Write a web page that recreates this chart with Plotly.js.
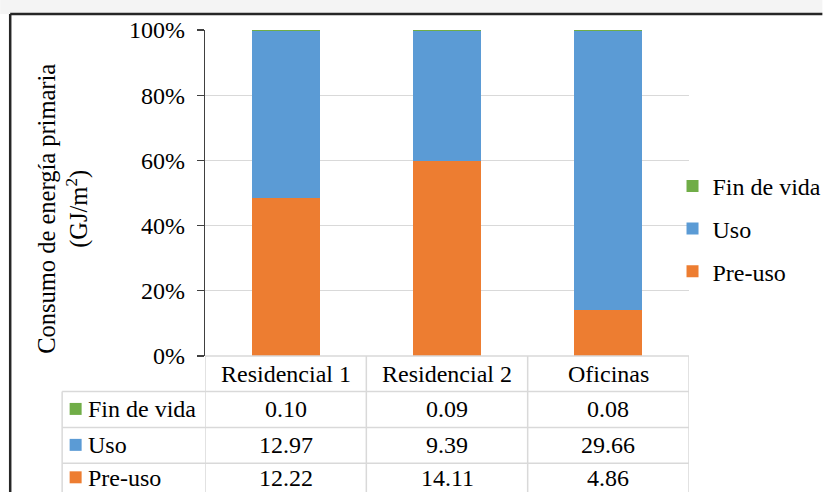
<!DOCTYPE html>
<html>
<head>
<meta charset="utf-8">
<script src="https://cdn.plot.ly/plotly-3.0.1.min.js"></script>
<style>
  html, body { margin: 0; padding: 0; background: #ffffff; overflow: hidden; }
  #chart { width: 823px; height: 492px; }
</style>
</head>
<body>
<div id="chart"></div>
<script>
// Primary energy use per building type, split by life-cycle stage (GJ/m2)
const categories = ['Residencial 1', 'Residencial 2', 'Oficinas'];
const preUso = [12.22, 14.11, 4.86];
const uso = [12.97, 9.39, 29.66];
const finVida = [0.10, 0.09, 0.08];
const stageNames = ['Pre-uso', 'Uso', 'Fin de vida'];
const stageColors = ['#ED7D31', '#5B9BD5', '#70AD47'];
const yTickVals = [0, 20, 40, 60, 80, 100];
const yTickText = ['0%', '20%', '40%', '60%', '80%', '100%'];
const yTitleLines = ['Consumo de energía primaria', '(GJ/m<sup>2</sup>)'];

// Figure geometry (pixels)
const W = 823, H = 492;
const L = 205, R = 689.5, T = 30, B = 356.5;
const pw = R - L, ph = B - T;
const px = X => (X - L) / pw;          // pixel x -> paper x
const py = Y => (B - Y) / ph;          // pixel y -> paper y

const FONT = 'Liberation Serif, Times New Roman, serif';
const FS = 24;
const gridCol = '#d9d9d9';
const txt = (size) => ({ family: FONT, size: size || FS, color: '#000' });

const seriesValues = [preUso, uso, finVida];
const xIdx = categories.map((_, i) => i);

const traces = seriesValues.map((vals, k) => ({
  type: 'bar',
  name: stageNames[k],
  x: xIdx,
  y: vals,
  marker: { color: stageColors[k], line: { width: 0 } },
  legendgroup: 'g' + k,
  legendrank: 3 - k,
  hoverinfo: 'name+y'
}));

const shapes = [];
const annotations = [];

// light band above the frame and the frame lines
shapes.push({ type: 'rect', xref: 'paper', yref: 'paper', x0: px(0), x1: px(W), y0: py(0), y1: py(14),
  fillcolor: '#f4f4f4', line: { width: 0 }, layer: 'below' });
shapes.push({ type: 'line', xref: 'paper', yref: 'paper', x0: px(10), x1: px(W), y0: py(14), y1: py(14),
  line: { color: '#262626', width: 2.5 } });
shapes.push({ type: 'line', xref: 'paper', yref: 'paper', x0: px(10), x1: px(10), y0: py(14), y1: py(H + 2),
  line: { color: '#262626', width: 2.5 } });

// data table grid
const rowY = [356.5, 392, 428, 464, 500];
const tableLeft = 62;
shapes.push({ type: 'line', xref: 'paper', yref: 'paper', x0: px(L), x1: px(R), y0: py(rowY[0]), y1: py(rowY[0]),
  line: { color: gridCol, width: 1.5 } });
for (let r = 1; r < rowY.length; r++) {
  shapes.push({ type: 'line', xref: 'paper', yref: 'paper', x0: px(tableLeft), x1: px(R), y0: py(rowY[r]), y1: py(rowY[r]),
    line: { color: gridCol, width: 1.5 } });
}
shapes.push({ type: 'line', xref: 'paper', yref: 'paper', x0: px(tableLeft), x1: px(tableLeft), y0: py(rowY[1]), y1: py(H + 5),
  line: { color: gridCol, width: 1.5 } });
for (let c = 0; c <= categories.length; c++) {
  const xb = c - 0.5;
  shapes.push({ type: 'line', xref: 'x', yref: 'paper', x0: xb, x1: xb, y0: py(rowY[0]), y1: py(H + 5),
    line: { color: gridCol, width: 1.5 } });
}

// header row: category names
categories.forEach((cat, i) => {
  annotations.push({ xref: 'x', yref: 'paper', x: i, y: py((rowY[0] + rowY[1]) / 2), text: cat,
    showarrow: false, xanchor: 'center', yanchor: 'middle', font: txt() });
});

// value rows (top to bottom: Fin de vida, Uso, Pre-uso)
const tableOrder = [2, 1, 0];
tableOrder.forEach((k, r) => {
  const yc = Math.min((rowY[r + 1] + rowY[r + 2]) / 2, 478.5);
  shapes.push({ type: 'rect', xref: 'paper', yref: 'paper',
    x0: px(69.5), x1: px(81.5), y0: py(yc - 6.5), y1: py(yc + 5.5),
    fillcolor: stageColors[k], line: { width: 0 } });
  annotations.push({ xref: 'paper', yref: 'paper', x: px(86), y: py(yc), text: stageNames[k],
    showarrow: false, xanchor: 'left', yanchor: 'middle', font: txt() });
  seriesValues[k].forEach((v, i) => {
    annotations.push({ xref: 'x', yref: 'paper', x: i, y: py(yc), text: v.toFixed(2),
      showarrow: false, xanchor: 'center', yanchor: 'middle', font: txt() });
  });
});

// y-axis title
annotations.push({ xref: 'paper', yref: 'paper', x: px(63), y: py(209), text: yTitleLines.join('<br>'),
  textangle: -90, showarrow: false, xanchor: 'center', yanchor: 'middle', font: txt(24.5) });

const layout = {
  width: W, height: H,
  margin: { l: L, r: W - R, t: T, b: H - B, pad: 0, autoexpand: false },
  paper_bgcolor: '#ffffff',
  plot_bgcolor: '#ffffff',
  barmode: 'stack',
  barnorm: 'percent',
  bargap: 0.58,
  font: txt(),
  showlegend: true,
  legend: {
    x: px(673), xanchor: 'left', y: py(164), yanchor: 'top',
    traceorder: 'grouped', tracegroupgap: 8.5,
    font: txt(),
    bgcolor: 'rgba(0,0,0,0)', borderwidth: 0
  },
  xaxis: {
    range: [-0.5, categories.length - 0.5],
    showticklabels: false, ticks: '', showgrid: false, zeroline: false, showline: false,
    fixedrange: true
  },
  yaxis: {
    range: [0, 100],
    tickvals: yTickVals, ticktext: yTickText,
    ticks: 'outside', ticklen: 7, tickcolor: '#404040', tickwidth: 1.2,
    showline: true, linecolor: '#404040', linewidth: 1.2,
    showgrid: true, gridcolor: gridCol, gridwidth: 1.2,
    zeroline: false,
    tickfont: txt(),
    ticklabelstandoff: 7,
    fixedrange: true
  },
  shapes: shapes,
  annotations: annotations
};

Plotly.newPlot('chart', traces, layout, { displayModeBar: false, staticPlot: true });
</script>
</body>
</html>
